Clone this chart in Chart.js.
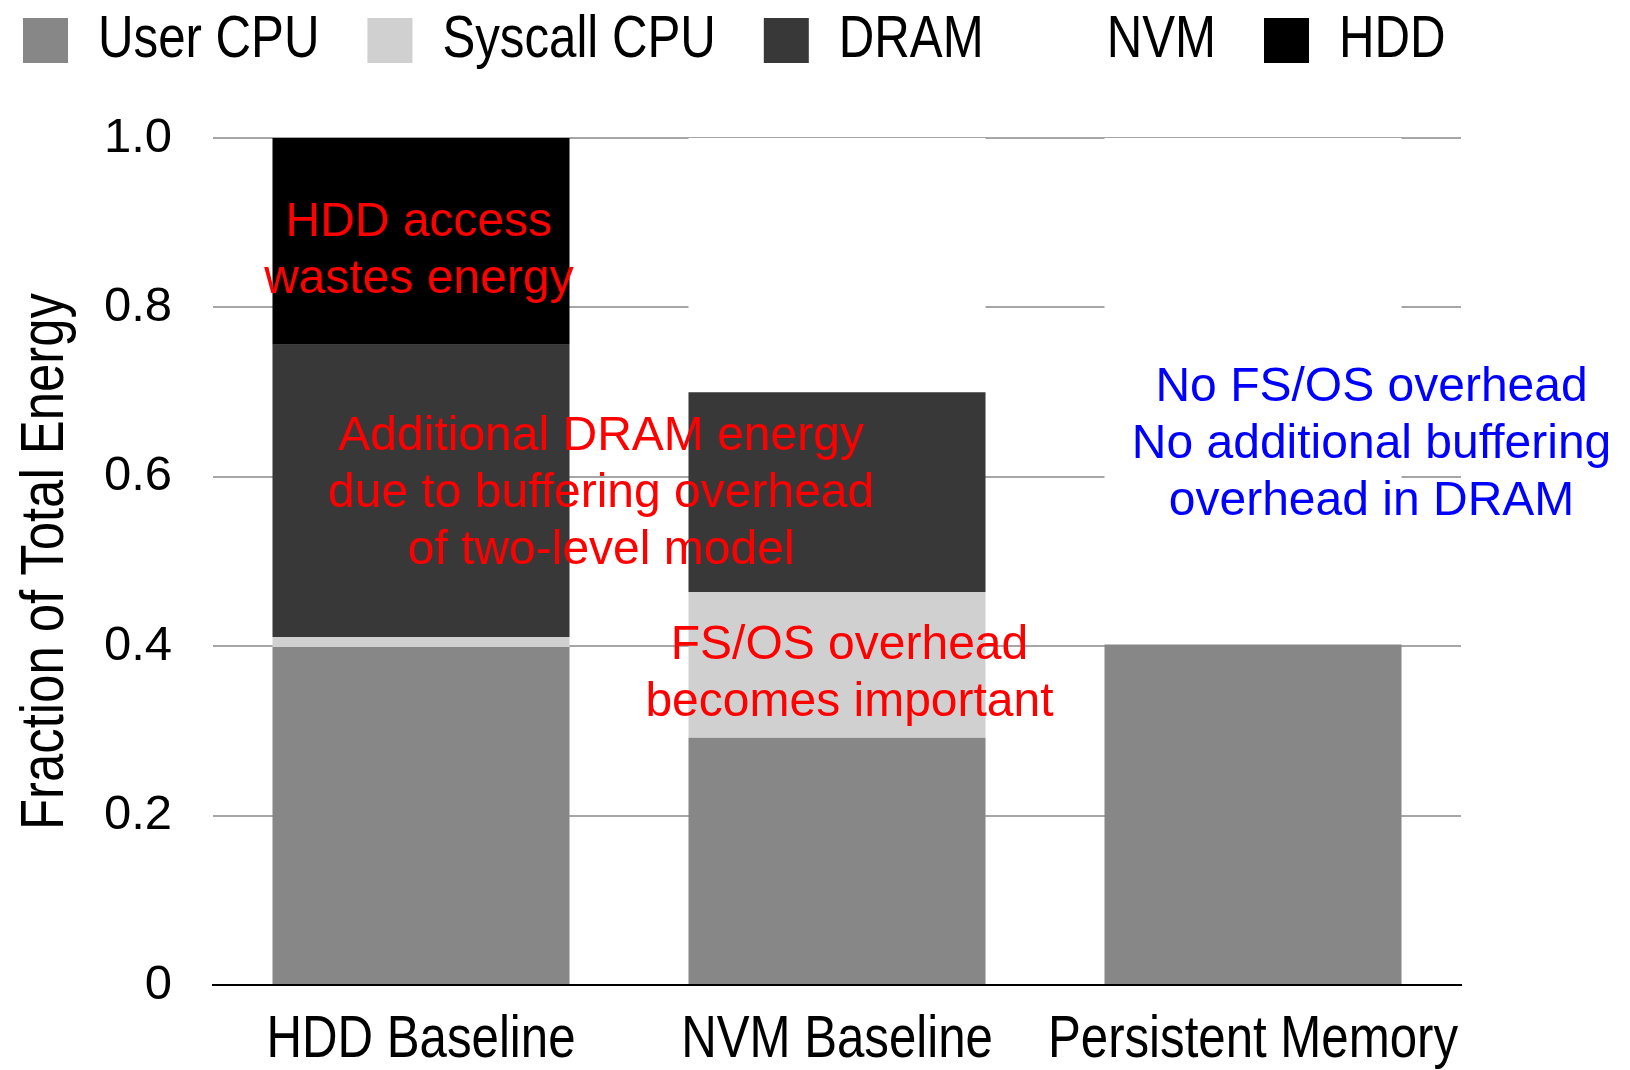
<!DOCTYPE html>
<html>
<head>
<meta charset="utf-8">
<script src="https://cdn.jsdelivr.net/npm/chart.js@4.4.1/dist/chart.umd.min.js"></script>
<style>
  body { margin: 0; background: #fff; }
  #wrap { width: 1630px; height: 1070px; }
</style>
</head>
<body>
<div id="wrap"><canvas id="grafico" width="1630" height="1070"></canvas></div>
<script>
// Dados
const categorias = ["HDD Baseline", "NVM Baseline", "Persistent Memory"];
const userCpu    = [0.399, 0.292, 0.402];
const syscallCpu = [0.012, 0.172, 0];
const dram       = [0.345, 0.236, 0];
const nvm        = [0,     0.300, 0.598];
const hdd        = [0.244, 0,     0];

const yTicks = [0, 0.2, 0.4, 0.6, 0.8, 1.0];

// Anotações: texto, posição x (índice categoria), y (fração da 1ª linha), cor
const notasTexto = [
  ["HDD access", "wastes energy"],
  ["Additional DRAM energy", "due to buffering overhead", "of two-level model"],
  ["FS/OS overhead", "becomes important"],
  ["No FS/OS overhead", "No additional buffering", "overhead in DRAM"]
];
const notasX = [-0.005, 0.433, 1.03, 2.285];
const notasY = [0.900, 0.647, 0.400, 0.705];
const notasCor = ["#ff0000", "#ff0000", "#ff0000", "#0000ff"];

// Fonte "narrow": não há Liberation Sans Narrow instalada, por isso
// comprime-se a Liberation Sans na horizontal (como a Arial Narrow, ~82%)
const ESTREITO = 0.82;
const NARROW = '"Liberation Sans Narrow", "Liberation Sans", Arial, sans-serif';
const NORMAL = '"Liberation Sans", Arial, sans-serif';

const canvas = document.getElementById('grafico');
const ctx2d = canvas.getContext('2d');
const fillOrig = ctx2d.fillText.bind(ctx2d);
const medirOrig = ctx2d.measureText.bind(ctx2d);
ctx2d.fillText = function (t, x, y, maxW) {
  if (!this.font.includes('Narrow')) {
    return maxW === undefined ? fillOrig(t, x, y) : fillOrig(t, x, y, maxW);
  }
  this.save();
  this.translate(x, y);
  this.scale(ESTREITO, 1);
  fillOrig(t, 0, 0);
  this.restore();
};
ctx2d.measureText = function (t) {
  const m = medirOrig(t);
  if (!this.font.includes('Narrow')) return m;
  return {
    width: m.width * ESTREITO,
    actualBoundingBoxLeft: m.actualBoundingBoxLeft * ESTREITO,
    actualBoundingBoxRight: m.actualBoundingBoxRight * ESTREITO,
    actualBoundingBoxAscent: m.actualBoundingBoxAscent,
    actualBoundingBoxDescent: m.actualBoundingBoxDescent
  };
};

// Plugin para escrever as anotações
const anotacoes = {
  id: 'anotacoes',
  afterDatasetsDraw(chart) {
    const ctx = chart.ctx;
    const sx = chart.scales.x, sy = chart.scales.y;
    ctx.save();
    ctx.font = '48px ' + NORMAL;
    ctx.textAlign = 'center';
    ctx.textBaseline = 'middle';
    const alturaLinha = 57;
    notasTexto.forEach((linhas, i) => {
      ctx.fillStyle = notasCor[i];
      const px = sx.getPixelForValue(notasX[i]);
      const py = sy.getPixelForValue(notasY[i]);
      linhas.forEach((t, k) => ctx.fillText(t, px, py + k * alturaLinha));
    });
    ctx.restore();
  }
};

new Chart(canvas, {
  type: 'bar',
  data: {
    labels: categorias,
    datasets: [
      { label: 'User CPU', data: userCpu, backgroundColor: '#878787' },
      { label: 'Syscall CPU', data: syscallCpu, backgroundColor: '#d0d0d0' },
      { label: 'DRAM', data: dram, backgroundColor: '#383838' },
      { label: 'NVM', data: nvm, backgroundColor: '#ffffff' },
      { label: 'HDD', data: hdd, backgroundColor: '#000000' }
    ]
  },
  options: {
    responsive: false,
    animation: false,
    layout: { padding: { left: -25, right: 0, top: -37.5, bottom: 0 } },
    datasets: { bar: { barPercentage: 1, categoryPercentage: 0.714, borderWidth: 0 } },
    plugins: {
      tooltip: { enabled: false },
      legend: {
        position: 'top',
        align: 'start',
        labels: {
          boxWidth: 45,
          boxHeight: 45,
          padding: 48,
          color: '#000',
          font: { family: NARROW, size: 60 }
        }
      },
      // só serve de espaço entre a legenda e o gráfico
      title: {
        display: true,
        text: '',
        weight: 500,
        padding: 0,
        font: { size: 48, lineHeight: 1.2 }
      }
    },
    scales: {
      x: {
        stacked: true,
        grid: { display: false, drawTicks: false },
        border: { display: true, color: '#000', width: 2 },
        ticks: {
          color: '#000', padding: 19, maxRotation: 0, autoSkip: false,
          font: { family: NARROW, size: 60 }
        },
        afterFit: s => { s.height = 85; }
      },
      y: {
        stacked: true,
        min: 0,
        max: 1,
        border: { display: false },
        grid: {
          drawTicks: false,
          lineWidth: 2,
          color: ctx => ctx.tick.value === 0 ? 'rgba(0,0,0,0)' : '#a6a6a6'
        },
        afterBuildTicks: scale => { scale.ticks = yTicks.map(v => ({ value: v })); },
        ticks: {
          padding: 41,
          color: '#000',
          font: { family: NORMAL, size: 49 },
          callback: v => v === 0 ? '0' : v.toFixed(1)
        },
        title: {
          display: true,
          text: 'Fraction of Total Energy',
          color: '#000',
          font: { family: NARROW, size: 62 },
          padding: { top: 34, bottom: 0 }
        },
        afterFit: s => { s.width = 238; }
      },
      // eixo vazio à direita: margem para o texto azul
      y2: {
        position: 'right',
        grid: { display: false },
        border: { display: false },
        ticks: { display: false },
        afterFit: s => { s.width = 169; }
      }
    }
  },
  plugins: [anotacoes]
});
</script>
</body>
</html>
